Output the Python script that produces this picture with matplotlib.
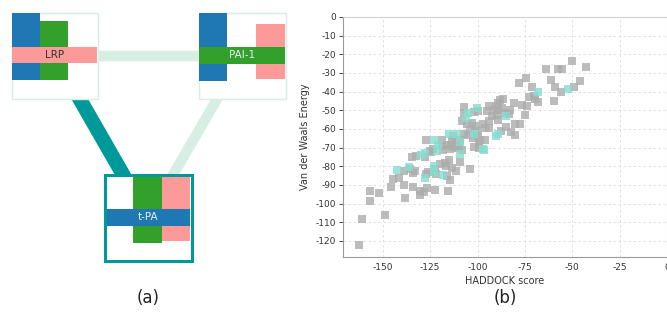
import matplotlib
matplotlib.use('Agg')
import matplotlib.pyplot as plt
from matplotlib.patches import Rectangle

# --- panel (b) data: HADDOCK score vs Van der Waals energy ---
gray_x = [-50, -43, -64, -57.6, -55.5, -61.3, -46, -74.5, -78, -59, -49.3, -56, -71.3, -59.5,
          -70.4, -73, -69.5, -68.3, -74, -76.6, -80.6, -75, -77.5, -80, -80, -82.4, -85, -87.5,
          -85.7, -83.6, -82.7, -87, -88, -86.3, -89, -90.3, -93.7, -91.5, -89, -95, -89.8, -92.4,
          -89, -94, -97.2, -93.7, -96.3, -99.5, -102, -107, -107, -108.3, -105.6, -103, -101.2,
          -104, -100.4, -104.8, -102.5, -99.5, -98.6, -96, -102, -99, -109.5, -107.4, -112.7,
          -113.5, -111.5, -114, -116.2, -112.7, -110, -118.8, -127, -118.8, -123.6, -125, -132.4,
          -134.7, -127.6, -124.6, -118, -114.4, -111, -108.3, -99, -139, -135.6, -133, -133.8,
          -127, -126.2, -122.3, -121.8, -120, -117, -115.3, -116.5, -113.5, -116.2, -114.4,
          -111.6, -109.5, -104.2, -144.7, -141.7, -138.6, -145.8, -133.8, -130.3, -130.6, -126.8,
          -128.2, -122.3, -115.7, -138.2, -157, -152.1, -156.7, -148.6, -161, -162.3]
gray_y = [-23.5, -27, -28, -28, -28, -33.6, -34.5, -32.7, -35.4, -37.7, -37.7, -40, -37.7, -45.2,
          -42.5, -43, -44, -45.7, -47.9, -47, -46, -52.3, -57.3, -57.3, -63, -61.8, -59, -61,
          -51.4, -52, -49.6, -48.8, -44.3, -43.8, -46, -47.9, -47.9, -49.6, -49.6, -50.5, -52.3,
          -53.2, -55, -55.9, -57.3, -59.5, -59.5, -50.5, -51, -48.2, -51.4, -55.9, -57.1, -56.8,
          -58.6, -60.4, -61.3, -63, -64.8, -63.6, -65.7, -65.7, -69.8, -67.9, -65.7, -62.7, -64,
          -65.7, -67.9, -68.8, -68.4, -69.6, -70.2, -65.7, -66, -69.3, -70.5, -72, -74.6,
          -74.9, -74.9, -72.3, -71, -70.5, -70, -71.3, -70, -82.6, -81.7, -82.6, -83.8,
          -84, -83.1, -81.3, -84, -79, -78, -76.7, -79.9, -80.8, -85.3, -87.4,
          -82.6, -77.7, -81.3, -86.7, -86.5, -89.8, -91.2, -91.2, -93, -95.2, -91.6,
          -93.9, -92.5, -93.4, -97, -93, -94.3, -98.8, -106, -108.3, -122]

cyan_x = [-52.3, -68, -89.3, -90, -85, -100.4, -104.8, -106, -102, -97.2, -110.9, -115.3, -109.2,
          -123.2, -121, -121.5, -127.6, -130, -109.2, -96.8, -142.6, -136.4, -127.6, -123.2,
          -123.2, -118]
cyan_y = [-38.5, -40.4, -62.7, -64, -53, -49, -51.4, -54.1, -62.7, -70.7, -62.5, -62.5, -67.1,
          -66, -68.8, -72, -72.9, -73.8, -73.6, -71, -82, -80.4, -86.2, -79.9, -83.1, -84.4]

x_ticks = [-150, -125, -100, -75, -50, -25, 0]
y_ticks = [0, -10, -20, -30, -40, -50, -60, -70, -80, -90, -100, -110, -120]

# --- panel (a) data: interaction network ---
nodes = ['LRP', 'PAI-1', 't-PA']
edges = [('LRP', 'PAI-1'), ('LRP', 't-PA'), ('PAI-1', 't-PA')]
edge_strong = [False, True, False]

BLUE, GREEN, PINK = '#1f78b4', '#33a02c', '#fb9a99'
TEAL, MINT = '#009999', '#d6eee4'

fig = plt.figure(figsize=(6.67, 3.12), dpi=100)

# network drawn in pixel-like coordinates
ax0 = fig.add_axes([0, 0, 1, 1])
ax0.set_xlim(0, 667)
ax0.set_ylim(312, 0)
ax0.axis('off')

centers = {'LRP': (55, 56), 'PAI-1': (242, 56), 't-PA': (148, 218)}
for (a, b), strong in zip(edges, edge_strong):
    (x1, y1), (x2, y2) = centers[a], centers[b]
    ax0.plot([x1, x2], [y1, y2], color=TEAL if strong else MINT,
             lw=10.5 if strong else 7.5, solid_capstyle='butt', zorder=1)

# LRP node
ax0.add_patch(Rectangle((12, 13), 86, 86, fc='white', ec=MINT, lw=1, zorder=2))
ax0.add_patch(Rectangle((12, 13), 28, 67, fc=BLUE, ec='none', zorder=3))
ax0.add_patch(Rectangle((40, 21), 28, 59, fc=GREEN, ec='none', zorder=3))
ax0.add_patch(Rectangle((12, 47), 85, 16, fc=PINK, ec='none', zorder=4))
ax0.text(55, 55.5, 'LRP', ha='center', va='center', fontsize=7.5, color='#333333', zorder=5)

# PAI-1 node
ax0.add_patch(Rectangle((199, 13), 87, 86, fc='white', ec=MINT, lw=1, zorder=2))
ax0.add_patch(Rectangle((199, 13), 28, 68, fc=BLUE, ec='none', zorder=3))
ax0.add_patch(Rectangle((256, 24), 29, 55, fc=PINK, ec='none', zorder=3))
ax0.add_patch(Rectangle((199, 47), 86, 17, fc=GREEN, ec='none', zorder=4))
ax0.text(242, 55.5, 'PAI-1', ha='center', va='center', fontsize=7.5, color='#e6eef5', zorder=5)

# t-PA node
ax0.add_patch(Rectangle((105, 175), 87, 86, fc='white', ec=TEAL, lw=2.2, zorder=2))
ax0.add_patch(Rectangle((133, 177), 29, 66, fc=GREEN, ec='none', zorder=3))
ax0.add_patch(Rectangle((162, 177), 28, 64, fc=PINK, ec='none', zorder=3))
ax0.add_patch(Rectangle((107, 209), 83, 17, fc=BLUE, ec='none', zorder=4))
ax0.text(148, 217.5, 't-PA', ha='center', va='center', fontsize=7.5, color='#e6eef5', zorder=5)

ax0.text(148, 298, '(a)', ha='center', va='center', fontsize=12, color='#222222')
ax0.text(505, 298, '(b)', ha='center', va='center', fontsize=12, color='#222222')

# scatter panel
ax = fig.add_axes([343 / 667, 55 / 312, 324 / 667, 240 / 312])
ax.scatter(gray_x, gray_y, marker='s', s=27, c='#acacac', alpha=0.8, linewidths=0, zorder=3)
ax.scatter(cyan_x, cyan_y, marker='s', s=27, c='#86ddcf', alpha=0.8, linewidths=0, zorder=3)
ax.set_xlim(-171, 0)
ax.set_ylim(-128.6, 0)
ax.set_xticks(x_ticks)
ax.set_yticks(y_ticks)
ax.set_xticklabels([str(v) for v in x_ticks])
ax.set_yticklabels([str(v) for v in y_ticks])
ax.tick_params(labelsize=6.5, colors='#333333', length=3, width=0.6, pad=2)
ax.tick_params(axis='x', length=0, pad=4)
ax.grid(True, color='#dddddd', linestyle=(0, (3, 3)), linewidth=0.6)
for side in ['top', 'right']:
    ax.spines[side].set_color('#d0d0d0')
for side in ['left', 'bottom']:
    ax.spines[side].set_color('#999999')
    ax.spines[side].set_linewidth(0.8)
ax.set_xlabel('HADDOCK score', fontsize=7, color='#333333', labelpad=3)
ax.set_ylabel('Van der Waals Energy', fontsize=7, color='#333333', labelpad=4)

fig.savefig('out.png', dpi=100)
